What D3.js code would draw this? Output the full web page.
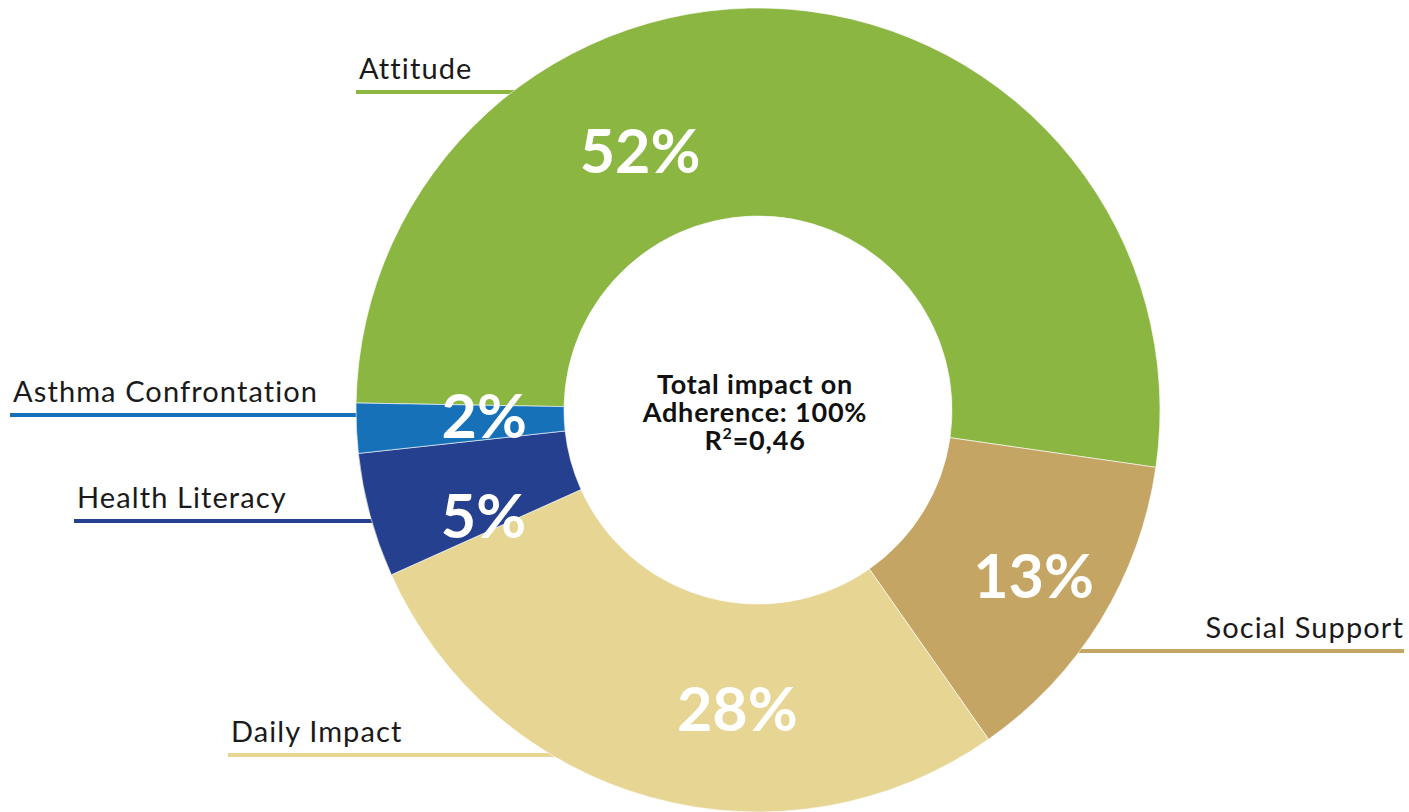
<!DOCTYPE html>
<html>
<head>
<meta charset="utf-8">
<script src="https://cdn.jsdelivr.net/npm/d3@7"></script>
<style>
  body { margin: 0; background: #fff; }
  svg { display: block; font-family: Lato, sans-serif; }
</style>
</head>
<body>
<div id="root"></div>
<script>
// Data
const categories = ['Attitude', 'Social Support', 'Daily Impact', 'Health Literacy', 'Asthma Confrontation'];
const shares = [52, 13, 28, 5, 2];
const colors = ['#8ab641', '#c4a564', '#e7d593', '#25408f', '#1771b9'];
const centerLines = ['Total impact on', 'Adherence: 100%'];
const rSquared = '0,46';

// Dimensions
const width = 1409;
const height = 812;
const cx = 758;
const cy = 410;
const outerR = 402;
const innerR = 194;
const startDeg = -89;

// callout placement: text start x, underline y, which side
const callouts = {
    'Attitude':             { x: 356,  y: 92,  side: 'left' },
    'Asthma Confrontation': { x: 10,   y: 415, side: 'left' },
    'Health Literacy':      { x: 74,   y: 521, side: 'left' },
    'Daily Impact':         { x: 228,  y: 755, side: 'left' },
    'Social Support':       { x: 1404, y: 651, side: 'right' }
};
// small nudges of the percent labels away from the slice centroid
const labelNudge = {
    'Attitude': [-142, 40],
    'Social Support': [20, 9],
    'Daily Impact': [59, 10],
    'Health Literacy': [15, 27],
    'Asthma Confrontation': [26, -8]
};

const dataset = categories.map((c, i) => ({ name: c, value: shares[i], color: colors[i] }));

const svg = d3.select('#root')
    .append('svg')
    .attr('width', width)
    .attr('height', height);

const g = svg.append('g').attr('transform', `translate(${cx},${cy})`);

const pie = d3.pie()
    .sort(null)
    .value(d => d.value)
    .startAngle(startDeg * Math.PI / 180)
    .endAngle(startDeg * Math.PI / 180 + 2 * Math.PI);

const arc = d3.arc().innerRadius(innerR).outerRadius(outerR);
const labelArc = d3.arc().innerRadius(300).outerRadius(300);

const arcs = pie(dataset);

// Leader lines (behind the donut)
g.selectAll('.leader')
    .data(arcs)
    .enter()
    .append('line')
    .attr('class', 'leader')
    .attr('x1', d => callouts[d.data.name].x - cx)
    .attr('x2', d => {
        const c = callouts[d.data.name];
        const dy = c.y - cy;
        const r = outerR - 10;
        const dx = Math.sqrt(r * r - dy * dy);
        return c.side === 'left' ? -dx : dx;
    })
    .attr('y1', d => callouts[d.data.name].y - cy)
    .attr('y2', d => callouts[d.data.name].y - cy)
    .attr('stroke', d => d.data.color)
    .attr('stroke-width', 4);

g.selectAll('.callout')
    .data(arcs)
    .enter()
    .append('text')
    .attr('class', 'callout')
    .attr('x', d => callouts[d.data.name].x - cx + (callouts[d.data.name].side === 'left' ? 3 : 0))
    .attr('y', d => callouts[d.data.name].y - cy - 13)
    .attr('text-anchor', d => callouts[d.data.name].side === 'left' ? 'start' : 'end')
    .attr('font-size', '29px')
    .attr('letter-spacing', '1.1px')
    .attr('fill', '#1a1a1a')
    .text(d => d.data.name);

// Slices
g.selectAll('.slice')
    .data(arcs)
    .enter()
    .append('path')
    .attr('class', 'slice')
    .attr('d', arc)
    .attr('fill', d => d.data.color)
    .attr('stroke', '#fff')
    .attr('stroke-width', 0.6);

// Percent labels
g.selectAll('.pct')
    .data(arcs)
    .enter()
    .append('text')
    .attr('class', 'pct')
    .attr('transform', d => {
        const [x, y] = labelArc.centroid(d);
        const [nx, ny] = labelNudge[d.data.name];
        return `translate(${x + nx},${y + ny})`;
    })
    .attr('dy', '0.36em')
    .attr('text-anchor', 'middle')
    .attr('font-size', '61px')
    .attr('font-weight', 700)
    .attr('fill', '#fff')
    .text(d => d.data.value + '%');

// Center text, one text element per line
centerLines.forEach((t, i) => {
    g.append('text')
        .attr('x', -3)
        .attr('y', -16 + i * 28)
        .attr('text-anchor', 'middle')
        .attr('font-size', '27px')
        .attr('letter-spacing', '0.8px')
        .attr('font-weight', 700)
        .attr('fill', '#111')
        .text(t);
});
const rLine = g.append('text')
    .attr('x', -3)
    .attr('y', 40)
    .attr('text-anchor', 'middle')
    .attr('font-size', '27px')
    .attr('letter-spacing', '0.8px')
    .attr('font-weight', 700)
    .attr('fill', '#111');
rLine.append('tspan').text('R');
rLine.append('tspan').attr('font-size', '16px').attr('dy', -11).text('2');
rLine.append('tspan').attr('dy', 11).text('=' + rSquared);
</script>
</body>
</html>
